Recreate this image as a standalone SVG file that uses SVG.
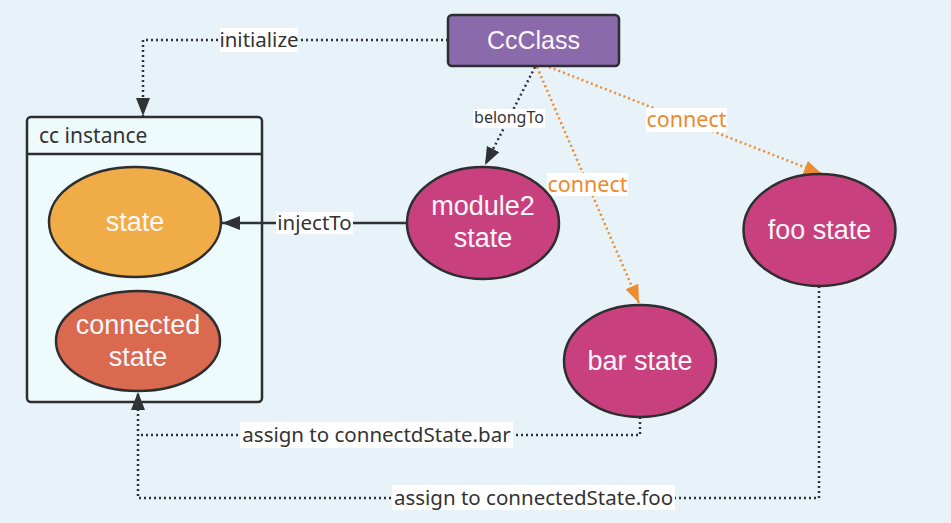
<svg xmlns="http://www.w3.org/2000/svg" width="951" height="523" viewBox="0 0 951 523">
<style>
text{font-family:"Noto Sans","Liberation Sans",sans-serif}
.bg{fill:#e8f2f9}
.node{stroke:#2e2e30;stroke-width:2.5}
.ntext{fill:#fdf6f9;font-family:"Liberation Sans",Arial,sans-serif;font-size:27px;text-anchor:middle}
.dot{fill:none;stroke:#2f3336;stroke-width:2.5;stroke-dasharray:2 3}
.odot{fill:none;stroke:#ee8c32;stroke-width:2.5;stroke-dasharray:2 3}
.solid{fill:none;stroke:#2f3336;stroke-width:2.5}
.lbg{fill:#ffffff}
.lbl{fill:#333333;font-size:20.5px;text-anchor:middle}
.olbl{fill:#ec8a2f;font-size:21.5px;text-anchor:middle}
</style>
<defs>
<marker id="ad" viewBox="0 0 18 14" refX="18" refY="7" markerWidth="18" markerHeight="14" markerUnits="userSpaceOnUse" orient="auto">
<path d="M0,0 L18,7 L0,14 z" fill="#2f3336"/>
</marker>
<marker id="ao" viewBox="0 0 18 14" refX="18" refY="7" markerWidth="18" markerHeight="14" markerUnits="userSpaceOnUse" orient="auto">
<path d="M0,0 L18,7 L0,14 z" fill="#ee8c32"/>
</marker>
</defs>
<rect class="bg" x="0" y="0" width="951" height="523"/>

<g id="cc-instance">
<rect x="27" y="117" width="235" height="285" rx="4" fill="#eefbfd" class="node"/>
<line x1="27" y1="154" x2="262" y2="154" stroke="#2e2e30" stroke-width="2.5"/>
<text x="39" y="143" style="fill:#333;font-size:21px">cc instance</text>
</g>

<g id="connectors">
<path class="dot" d="M448,40 H143 V116" marker-end="url(#ad)"/>
<path class="dot" d="M535,67 L485,165" marker-end="url(#ad)"/>
<path class="odot" d="M537,67 L639,303" marker-end="url(#ao)"/>
<path class="odot" d="M549,67 L822,174" marker-end="url(#ao)"/>
<path class="solid" d="M407,223 H222" marker-end="url(#ad)"/>
<path class="dot" d="M640,417 V435 H138"/>
<path class="dot" d="M819,286 V498 H138 V392" marker-end="url(#ad)"/>

<rect class="lbg" x="220" y="28" width="78" height="24"/>
<text class="lbl" x="259" y="47">initialize</text>
<rect class="lbg" x="473" y="109" width="72" height="19"/>
<text class="lbl" x="509" y="123" style="font-size:16px">belongTo</text>
<rect class="lbg" x="547" y="173" width="81" height="23"/>
<text class="olbl" x="587.5" y="192">connect</text>
<rect class="lbg" x="646" y="108" width="81" height="24"/>
<text class="olbl" x="686.5" y="127">connect</text>
<rect class="lbg" x="276" y="212" width="77" height="22"/>
<text class="lbl" x="314.5" y="230">injectTo</text>
<rect class="lbg" x="240" y="422" width="273" height="26"/>
<text class="lbl" x="376.5" y="442">assign to connectdState.bar</text>
<rect class="lbg" x="392" y="485" width="283" height="25"/>
<text class="lbl" x="533.5" y="505">assign to connectedState.foo</text>
</g>

<g id="ccclass">
<rect x="448" y="15" width="171" height="51" rx="4" fill="#8b6aab" class="node"/>
<text class="ntext" x="533.5" y="49" style="font-size:25px">CcClass</text>
</g>

<g id="state">
<ellipse cx="135" cy="222" rx="86" ry="55" fill="#f0ad47" class="node"/>
<text class="ntext" x="135" y="231">state</text>
</g>

<g id="connected-state">
<ellipse cx="138" cy="341" rx="82" ry="50" fill="#d9694f" class="node"/>
<text class="ntext" x="138" y="334">connected</text>
<text class="ntext" x="138" y="366">state</text>
</g>

<g id="module2-state">
<ellipse cx="483" cy="223" rx="76" ry="56" fill="#c8417e" class="node"/>
<text class="ntext" x="483" y="215">module2</text>
<text class="ntext" x="483" y="247">state</text>
</g>

<g id="foo-state">
<ellipse cx="819.5" cy="230" rx="76" ry="56" fill="#c8417e" class="node"/>
<text class="ntext" x="819.5" y="239">foo state</text>
</g>

<g id="bar-state">
<ellipse cx="640" cy="361" rx="76" ry="56" fill="#c8417e" class="node"/>
<text class="ntext" x="640" y="370">bar state</text>
</g>
</svg>
